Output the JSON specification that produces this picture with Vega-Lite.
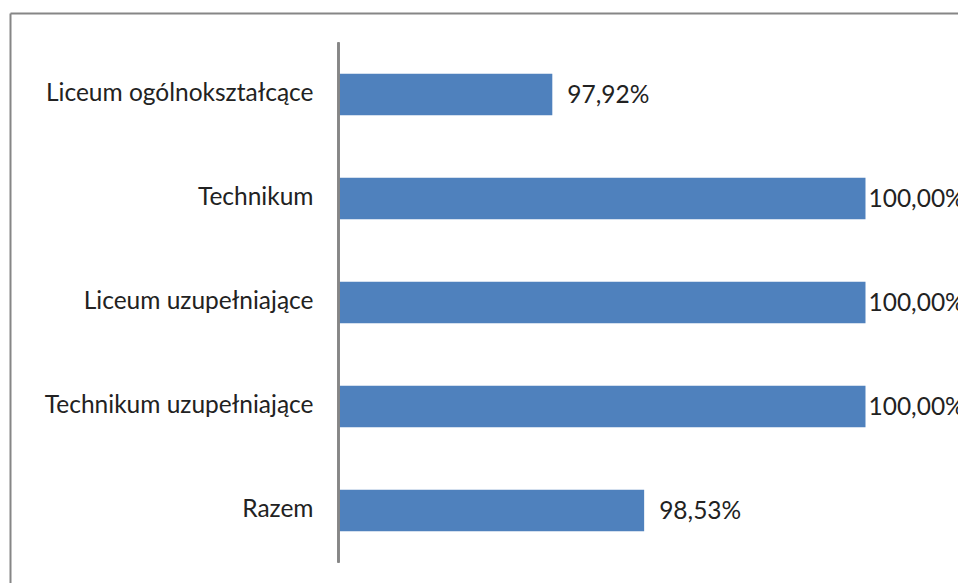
{
  "$schema": "https://vega.github.io/schema/vega-lite/v6.json",
  "width": 948,
  "height": 570,
  "autosize": "none",
  "padding": {"left": 10, "top": 13, "right": 0, "bottom": 0},
  "background": "white",
  "config": {
    "view": {"stroke": null},
    "font": "Lato",
    "locale": {"number": {"decimal": ",", "thousands": "\u00a0", "grouping": [3], "currency": ["", " zł"], "percent": "%"}}
  },
  "data": {
    "values": [
      {"typ": "Liceum ogólnokształcące", "value": 0.9792},
      {"typ": "Technikum", "value": 1.0},
      {"typ": "Liceum uzupełniające", "value": 1.0},
      {"typ": "Technikum uzupełniające", "value": 1.0},
      {"typ": "Razem", "value": 0.9853}
    ]
  },
  "encoding": {
    "y": {
      "field": "typ",
      "type": "nominal",
      "sort": null,
      "scale": {"paddingInner": 0.6, "paddingOuter": 0.5404, "align": 0.54},
      "axis": {
        "title": null,
        "orient": "left",
        "domain": true,
        "domainColor": "#868686",
        "domainWidth": 2,
        "ticks": false,
        "tickSize": 0,
        "labelPadding": -303,
        "labelAlign": "right",
        "labelLimit": 500,
        "labelFont": "Lato",
        "labelFontSize": 24.5,
        "labelColor": "#222222"
      }
    }
  },
  "layer": [
    {
      "mark": {"type": "bar", "color": "#4F81BD"},
      "encoding": {
        "x": {
          "field": "value",
          "type": "quantitative",
          "scale": {"domain": [0.943183, 1.006144], "zero": false, "nice": false},
          "axis": {
            "orient": "top",
            "title": null,
            "labels": false,
            "ticks": false,
            "grid": false,
            "domain": true,
            "domainColor": "#868686",
            "domainWidth": 2
          }
        },
        "x2": {"datum": 0.965}
      }
    },
    {
      "mark": {"type": "rule", "color": "#868686", "strokeWidth": 2},
      "encoding": {
        "x": {"datum": 0.965},
        "y": {"datum": "Liceum ogólnokształcące", "bandPosition": -0.75},
        "y2": {"datum": "Razem", "bandPosition": 1.75}
      }
    },
    {
      "transform": [{"filter": "datum.value < 1"}],
      "mark": {"type": "text", "align": "left", "baseline": "middle", "dx": 15, "dy": 2, "font": "Lato", "fontSize": 24.5, "color": "#222222"},
      "encoding": {
        "x": {"field": "value", "type": "quantitative"},
        "text": {"field": "value", "type": "quantitative", "format": ".2%"}
      }
    },
    {
      "transform": [{"filter": "datum.value >= 1"}],
      "mark": {"type": "text", "align": "left", "baseline": "middle", "dx": 3, "dy": 2, "font": "Lato", "fontSize": 24.5, "color": "#222222"},
      "encoding": {
        "x": {"field": "value", "type": "quantitative"},
        "text": {"field": "value", "type": "quantitative", "format": ".2%"}
      }
    }
  ]
}
